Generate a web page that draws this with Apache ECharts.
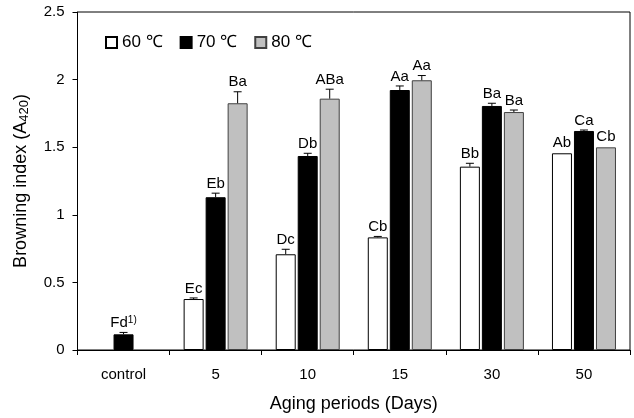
<!DOCTYPE html>
<html>
<head>
<meta charset="utf-8">
<script src="https://cdn.jsdelivr.net/npm/echarts@6/dist/echarts.min.js"></script>
<style>
html,body{margin:0;padding:0;background:#fff;}
#c{width:634px;height:418px;}
</style>
</head>
<body>
<div id="c"></div>
<script>
var categories = ['control', '5', '10', '15', '30', '50'];
var seriesNames = ['60 \u2103', '70 \u2103', '80 \u2103'];
var t60 = [null, 0.377, 0.708, 0.833, 1.356, 1.455];
var t70 = [0.116, 1.130, 1.435, 1.923, 1.805, 1.620];
var t80 = [null, 1.825, 1.859, 1.995, 1.760, 1.499];
var err60 = [null, 0.008, 0.037, 0.007, 0.025, 0.004];
var err70 = [0.014, 0.030, 0.020, 0.030, 0.020, 0.007];
var err80 = [null, 0.085, 0.070, 0.035, 0.015, 0.004];
var lab60 = ['', 'Ec', 'Dc', 'Cb', 'Bb', 'Ab'];
var lab70 = ['Fd{s|1)}', 'Eb', 'Db', 'Aa', 'Ba', 'Ca'];
var lab80 = ['', 'Ba', 'ABa', 'Aa', 'Ba', 'Cb'];
var yTicks = [0, 0.5, 1, 1.5, 2, 2.5];

var FONT = '"Liberation Sans", Arial, sans-serif';
var BAR_W = 20, BAR_GAP = 2;

var vals = [t60, t70, t80], errs = [err60, err70, err80], labs = [lab60, lab70, lab80];
var errData = [];
for (var s = 0; s < 3; s++) {
  for (var i = 0; i < categories.length; i++) {
    if (vals[s][i] != null) errData.push([i, s, vals[s][i], errs[s][i], labs[s][i]]);
  }
}

var barStyles = [
  {color: '#ffffff', borderColor: '#000000', borderWidth: 1},
  {color: '#000000', borderColor: '#000000', borderWidth: 1},
  {color: '#c0c0c0', borderColor: '#404040', borderWidth: 1}
];

var chart = echarts.init(document.getElementById('c'), null, {renderer: 'canvas'});
chart.setOption({
  animation: false,
  textStyle: {fontFamily: FONT},
  legend: {
    left: 100, top: 29, orient: 'horizontal',
    icon: 'rect', itemWidth: 11, itemHeight: 11, itemGap: 17,
    textStyle: {fontSize: 17, color: '#000', fontFamily: FONT},
    data: seriesNames
  },
  grid: {left: 77.5, right: 4, top: 12, bottom: 68, show: true, borderColor: '#000', borderWidth: 1, backgroundColor: 'transparent'},
  xAxis: {
    type: 'category', data: categories,
    name: 'Aging periods (Days)', nameLocation: 'middle', nameGap: 45,
    nameTextStyle: {fontSize: 18, color: '#000', fontFamily: FONT},
    axisLine: {lineStyle: {color: '#000', width: 1}},
    axisTick: {show: true, length: 5, inside: false, lineStyle: {color: '#000'}},
    axisLabel: {fontSize: 15, color: '#000', margin: 17, fontFamily: FONT}
  },
  yAxis: {
    type: 'value', min: 0, max: 2.5, interval: 0.5,
    name: 'Browning index (A{sub|420})', nameLocation: 'middle', nameGap: 47, nameRotate: 90,
    nameTextStyle: {fontSize: 18, color: '#000', fontFamily: FONT,
      rich: {sub: {fontSize: 13, color: '#000', fontFamily: FONT, verticalAlign: 'bottom'}}},
    axisLine: {show: true, lineStyle: {color: '#000', width: 1}},
    axisTick: {show: true, length: 5, inside: false, lineStyle: {color: '#000'}},
    splitLine: {show: false},
    axisLabel: {fontSize: 15, color: '#000', margin: 13, fontFamily: FONT,
      formatter: function (v) { return yTicks.indexOf(v) >= 0 ? String(v) : ''; }}
  },
  series: [
    {name: seriesNames[0], type: 'bar', data: t60, barWidth: BAR_W, barGap: '10%', itemStyle: barStyles[0]},
    {name: seriesNames[1], type: 'bar', data: t70, barWidth: BAR_W, barGap: '10%', itemStyle: barStyles[1]},
    {name: seriesNames[2], type: 'bar', data: t80, barWidth: BAR_W, barGap: '10%', itemStyle: barStyles[2]},
    {
      type: 'custom', data: errData, z: 10, silent: true,
      encode: {x: 0, y: 2},
      renderItem: function (params, api) {
        var ci = api.value(0), si = api.value(1), v = api.value(2), e = api.value(3);
        var lab = errData[params.dataIndex][4];
        var base = api.coord([ci, v]);
        var x = base[0] + (si - 1) * (BAR_W + BAR_GAP);
        var yTop = api.coord([ci, v + e])[1];
        var yBar = base[1];
        var children = [];
        if (e > 0.005) {
          children.push({type: 'line', shape: {x1: x, y1: yBar, x2: x, y2: yTop}, style: {stroke: '#000', lineWidth: 1}});
          children.push({type: 'line', shape: {x1: x - 4, y1: yTop, x2: x + 4, y2: yTop}, style: {stroke: '#000', lineWidth: 1}});
        }
        children.push({
          type: 'text', x: x, y: yTop - 2,
          style: {
            text: lab, fill: '#000', fontSize: 15, fontFamily: FONT,
            align: 'center', verticalAlign: 'bottom',
            rich: {s: {fontSize: 10, fontFamily: FONT, fill: '#000', verticalAlign: 'top'}}
          }
        });
        return {type: 'group', children: children};
      }
    }
  ]
});
</script>
</body>
</html>
